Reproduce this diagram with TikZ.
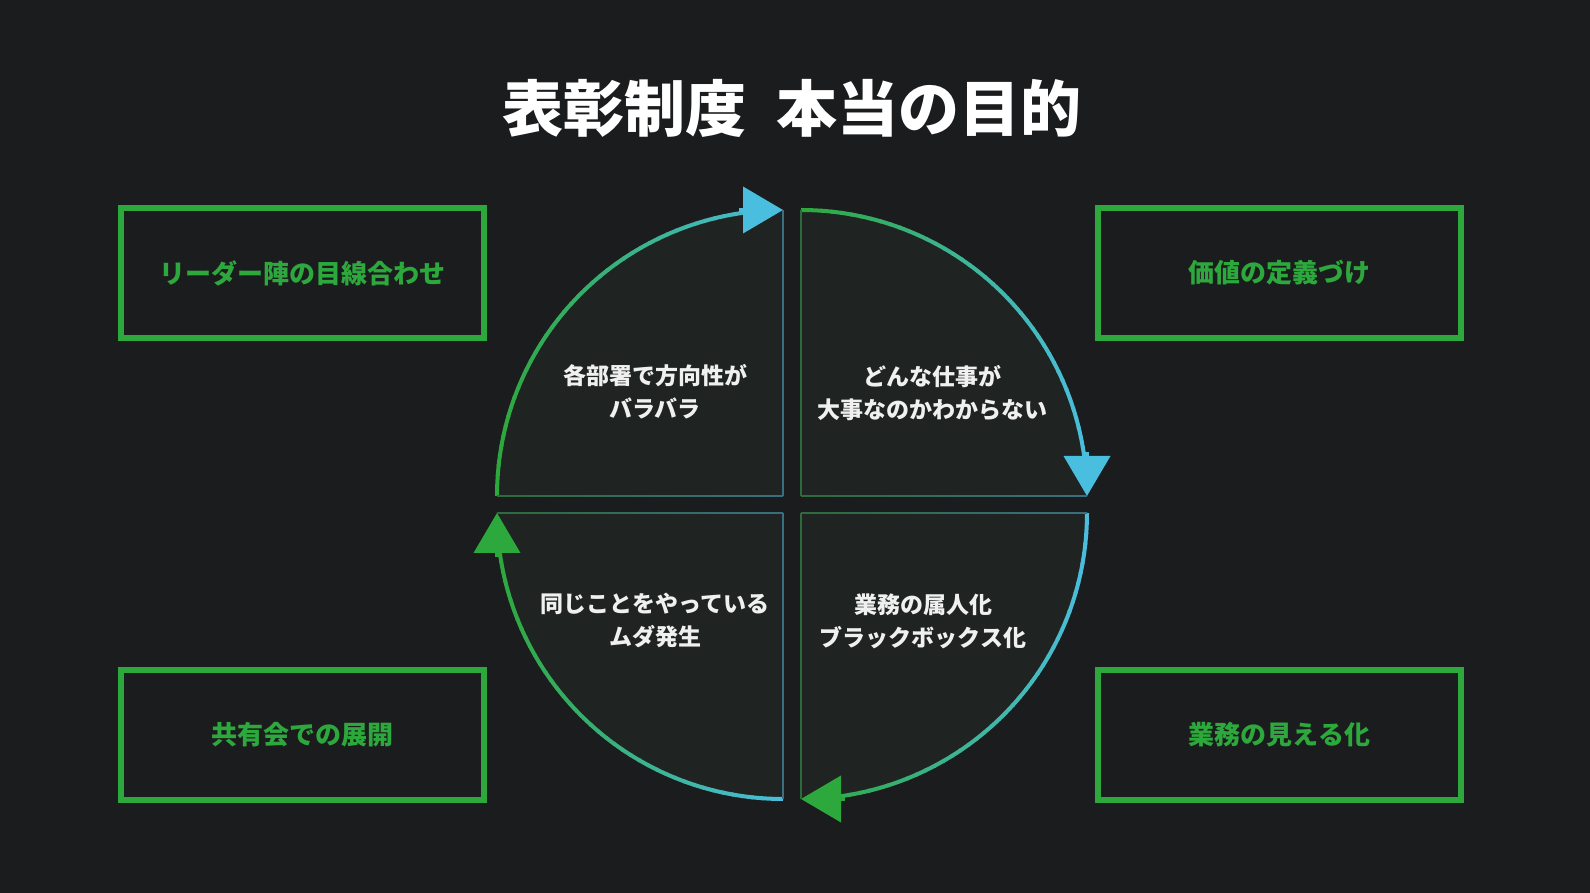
\documentclass[tikz,border=0pt]{standalone}
\usepackage{fontspec}
\setmainfont{Noto Sans CJK JP}
\usetikzlibrary{arrows.meta}
\definecolor{darkbg}{RGB}{27,28,30}
\definecolor{quadbg}{RGB}{31,35,34}
\definecolor{accentgreen}{RGB}{45,168,60}
\definecolor{accentcyan}{RGB}{74,190,222}
\definecolor{edgegreen}{RGB}{44,108,60}
\definecolor{edgeblue}{RGB}{58,110,128}

\begin{document}
\begin{tikzpicture}[x=1pt, y=1pt,
    goal/.style={rectangle, draw=accentgreen, line width=6pt, minimum width=363pt, minimum height=130pt, text=accentgreen, font=\fontsize{26}{30}\selectfont\bfseries},
    issue/.style={align=center, text=white!94!black, font=\fontsize{23}{33}\selectfont\bfseries},
    seg/.style={line width=4pt}]

    \fill[darkbg] (0,0) rectangle (1590,893);

    \node[text=white, font=\fontsize{61}{70}\selectfont\bfseries] (title) at (792,785) {表彰制度\hspace{0.5em}本当の目的};

    % four quarter discs, corner x / corner y / start angle / colour offset
    \foreach \cx/\cy/\a/\off in {783/397/180/1, 801/397/90/0, 801/380/0/0, 783/380/-90/1} {
        \fill[quadbg] (\cx,\cy) -- ++(\a:286) arc[start angle=\a, end angle=\a-90, radius=286] -- cycle;
        % arc in short pieces, green on the left, cyan on the right
        \foreach \k in {0,...,41} {
            \pgfmathsetmacro\ta{\a-2*\k}
            \pgfmathsetmacro\tb{\ta-2.3}
            \pgfmathtruncatemacro\pct{100*(cos(\ta-1)+\off)}
            \draw[seg, accentcyan!\pct!accentgreen] (\cx,\cy) ++(\ta:286) arc[start angle=\ta, end angle=\tb, radius=286];
        }
        \pgfmathsetmacro\e{\a-90}
        \pgfmathtruncatemacro\tip{100*(cos(\e)+\off)+0.5}
        \draw[seg, accentcyan!\tip!accentgreen, -{Triangle[length=40pt, width=46pt]}]
            (\cx,\cy) ++(\e:286) ++(\e+90:44) -- ++(\e-90:44);
    }

    % straight edges of the quarters
    \shade[left color=edgegreen, right color=edgeblue] (497,396.2) rectangle (783,397.8);
    \shade[left color=edgegreen, right color=edgeblue] (801,396.2) rectangle (1087,397.8);
    \shade[left color=edgegreen, right color=edgeblue] (497,379.2) rectangle (783,380.8);
    \shade[left color=edgegreen, right color=edgeblue] (801,379.2) rectangle (1087,380.8);
    \draw[edgeblue, line width=1.6pt] (783,397) -- (783,683);
    \draw[edgegreen, line width=1.6pt] (801,397) -- (801,683);
    \draw[edgeblue, line width=1.6pt] (783,380) -- (783,94);
    \draw[edgegreen, line width=1.6pt] (801,380) -- (801,94);

    \node[issue] (silo) at (655,501) {各部署で方向性が\\バラバラ};
    \node[issue] (worth) at (932,500) {どんな仕事が\\大事なのかわからない};
    \node[issue] (waste) at (655,273) {同じことをやっている\\ムダ発生};
    \node[issue] (blackbox) at (923,272) {業務の属人化\\ブラックボックス化};

    \node[goal] (align) at (302.5,620) {リーダー陣の目線合わせ};
    \node[goal] (define) at (1279.5,620) {価値の定義づけ};
    \node[goal] (share) at (302.5,158) {共有会での展開};
    \node[goal] (visible) at (1279.5,158) {業務の見える化};
\end{tikzpicture}
\end{document}
